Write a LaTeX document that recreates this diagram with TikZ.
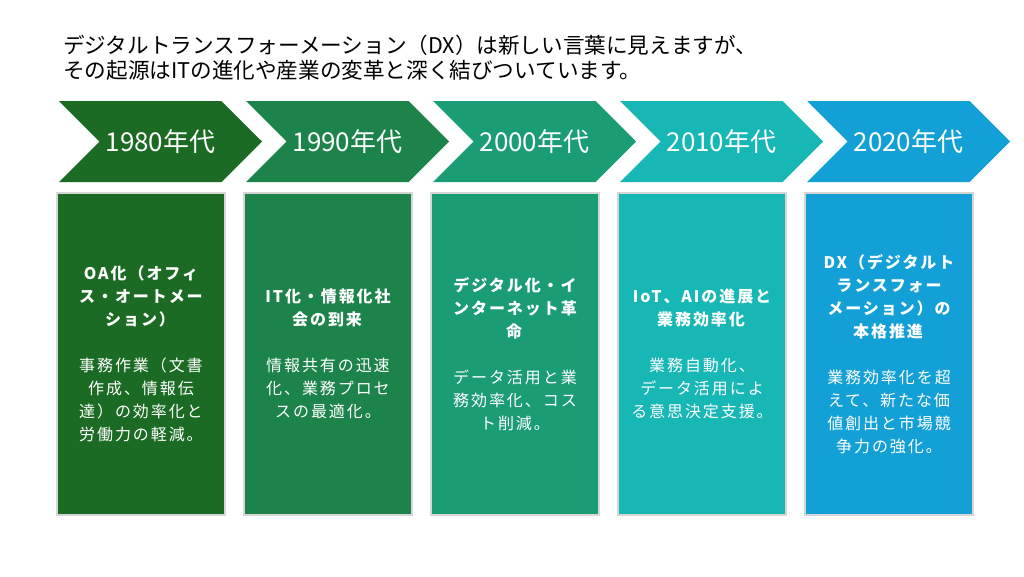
\documentclass[tikz,border=0pt]{standalone}
\usepackage{fontspec}
\setmainfont{Noto Sans CJK JP}
\newfontfamily\jpwide[LetterSpace=12]{Noto Sans CJK JP}
\definecolor{c1980}{RGB}{28,107,37}
\definecolor{c1990}{RGB}{28,132,74}
\definecolor{c2000}{RGB}{26,156,116}
\definecolor{c2010}{RGB}{23,183,182}
\definecolor{c2020}{RGB}{19,160,214}
\definecolor{rim}{RGB}{214,214,214}
\usetikzlibrary{positioning,shapes.symbols}
\tikzset{
  chev/.style={signal,signal from=west,signal to=east,signal pointer angle=90,
               minimum width=203pt,minimum height=81pt,inner sep=0pt,outer sep=0pt,
               text=white,font=\fontsize{26}{30}\selectfont},
  card/.style={draw=rim,line width=1.5pt,minimum width=168pt,minimum height=322pt,
               outer sep=0pt,text width=160pt,align=center,text=white,
               font=\jpwide\fontsize{16}{23}\selectfont},
  intro/.style={align=left,font=\fontsize{21.6}{25}\selectfont,inner sep=0pt},
}

\begin{document}
\begin{tikzpicture}[x=1pt,y=1pt,node distance=19pt]
    \useasboundingbox (0,0) rectangle (1024,-576);
    \node[intro,anchor=north west] (lead) at (63,-35)
      {デジタルトランスフォーメーション（DX）は新しい言葉に見えますが、\\
       その起源はITの進化や産業の変革と深く結びついています。};
    \node[card,fill=c1980,anchor=north west] (box1) at (57,-193)
      {\textbf{OA化（オフィ\\ス・オートメー\\ション）}\\[23pt]
       事務作業（文書\\作成、情報伝\\達）の効率化と\\労働力の軽減。};
    \node[card,fill=c1990,right=of box1] (box2)
      {\textbf{IT化・情報化社\\会の到来}\\[23pt]
       情報共有の迅速\\化、業務プロセ\\スの最適化。};
    \node[card,fill=c2000,right=of box2] (box3)
      {\textbf{デジタル化・イ\\ンターネット革\\命}\\[23pt]
       データ活用と業\\務効率化、コス\\ト削減。};
    \node[card,fill=c2010,right=of box3] (box4)
      {\textbf{IoT、AIの進展と\\業務効率化}\\[23pt]
       業務自動化、\\データ活用によ\\る意思決定支援。};
    \node[card,fill=c2020,right=of box4] (box5)
      {\textbf{DX（デジタルト\\ランスフォー\\メーション）の\\本格推進}\\[23pt]
       業務効率化を超\\えて、新たな価\\値創出と市場競\\争力の強化。};
    \node[chev,fill=c1980,above=11pt of box1.north west,anchor=south west,xshift=2pt] (era1) {1980年代};
    \node[chev,fill=c1990,above=11pt of box2.north west,anchor=south west,xshift=2pt] (era2) {1990年代};
    \node[chev,fill=c2000,above=11pt of box3.north west,anchor=south west,xshift=2pt] (era3) {2000年代};
    \node[chev,fill=c2010,above=11pt of box4.north west,anchor=south west,xshift=2pt] (era4) {2010年代};
    \node[chev,fill=c2020,above=11pt of box5.north west,anchor=south west,xshift=2pt] (era5) {2020年代};
  \end{tikzpicture}
\end{document}
